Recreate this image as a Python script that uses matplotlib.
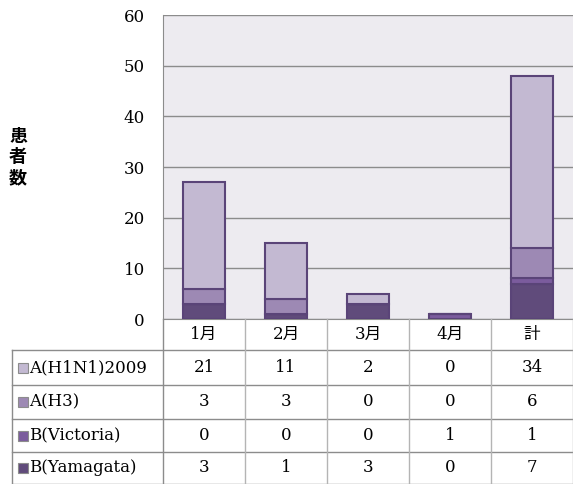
import matplotlib.pyplot as plt
from matplotlib.patches import Rectangle
from matplotlib.lines import Line2D

months = ["1月", "2月", "3月", "4月", "計"]
series = ["A(H1N1)2009", "A(H3)", "B(Victoria)", "B(Yamagata)"]
h1n1 = [21, 11, 2, 0, 34]
h3 = [3, 3, 0, 0, 6]
victoria = [0, 0, 0, 1, 1]
yamagata = [3, 1, 3, 0, 7]
colors = ["#c3b9d2", "#9d89b4", "#7b5c9d", "#604b7b"]

plt.rcParams["font.family"] = ["DejaVu Serif", "Noto Sans CJK JP", "DejaVu Sans"]

W, H = 573, 484
fig = plt.figure(figsize=(W / 100, H / 100), dpi=100)


def fx(px):
    return px / W


def fy(py):
    return 1 - py / H


x0, x1, ytop, ybot = 163, 573, 15, 319
ax = fig.add_axes([fx(x0), fy(ybot), fx(x1) - fx(x0), fy(ytop) - fy(ybot)])
ax.set_facecolor("#edebf0")

xs = range(len(months))
bottom = [0] * len(months)
for vals, c in zip([yamagata, victoria, h3, h1n1], colors[::-1]):
    ax.bar(xs, vals, bottom=bottom, width=0.52, color=c, edgecolor="#5a4478",
           linewidth=1.5, zorder=3)
    bottom = [b + v for b, v in zip(bottom, vals)]

ax.set_xlim(-0.5, len(months) - 0.5)
ax.set_ylim(0, 60)
ax.set_yticks(range(0, 61, 10))
ax.yaxis.grid(True, color="#8c8c8c", linewidth=1, zorder=0)
ax.set_xticks([])
ax.tick_params(axis="y", length=0, labelsize=12, pad=13)
for s in ["top", "right"]:
    ax.spines[s].set_visible(False)
ax.spines["left"].set_color("#8c8c8c")
ax.spines["bottom"].set_color("#8c8c8c")

fig.text(fx(18), fy(157), "患\n者\n数", fontsize=13, fontweight="bold",
         ha="center", va="center", linespacing=1.1,
         family=["Noto Sans CJK JP", "DejaVu Sans"])

# table below the chart
tx0 = 12
row_edges = [319, 350, 385, 419, 452, 484]
col_w = (x1 - x0) / len(months)
col_edges = [x0 + i * col_w for i in range(len(months) + 1)]
grid_c = "#8c8c8c"


def hline(y, xa, xb):
    fig.add_artist(Line2D([fx(xa), fx(xb)], [fy(y), fy(y)], color=grid_c, lw=1))


def vline(x, ya, yb, c="#b4b4b4"):
    fig.add_artist(Line2D([fx(x), fx(x)], [fy(ya), fy(yb)], color=c, lw=1))


for y in row_edges[1:]:
    hline(y, tx0, x1)
vline(tx0, row_edges[1], H, grid_c)
vline(x0, row_edges[0], H, grid_c)
for x in col_edges[1:-1]:
    vline(x, row_edges[0], H)
vline(x1 - 0.5, row_edges[0], H)

for i, m in enumerate(months):
    cx = col_edges[i] + col_w / 2
    fig.text(fx(cx), fy((row_edges[0] + row_edges[1]) / 2), m, fontsize=12,
             ha="center", va="center")

table_vals = [h1n1, h3, victoria, yamagata]
for r, (name, vals, c) in enumerate(zip(series, table_vals, colors)):
    cy = (row_edges[r + 1] + row_edges[r + 2]) / 2
    fig.add_artist(Rectangle((fx(18), fy(cy + 5)), fx(10), fy(cy - 5) - fy(cy + 5),
                             facecolor=c, edgecolor="#8c8c8c", lw=0.8))
    fig.text(fx(29), fy(cy), name, fontsize=12, ha="left", va="center")
    for i, v in enumerate(vals):
        cx = col_edges[i] + col_w / 2
        fig.text(fx(cx), fy(cy), str(v), fontsize=12, ha="center", va="center")

fig.savefig("out.png", dpi=100)
